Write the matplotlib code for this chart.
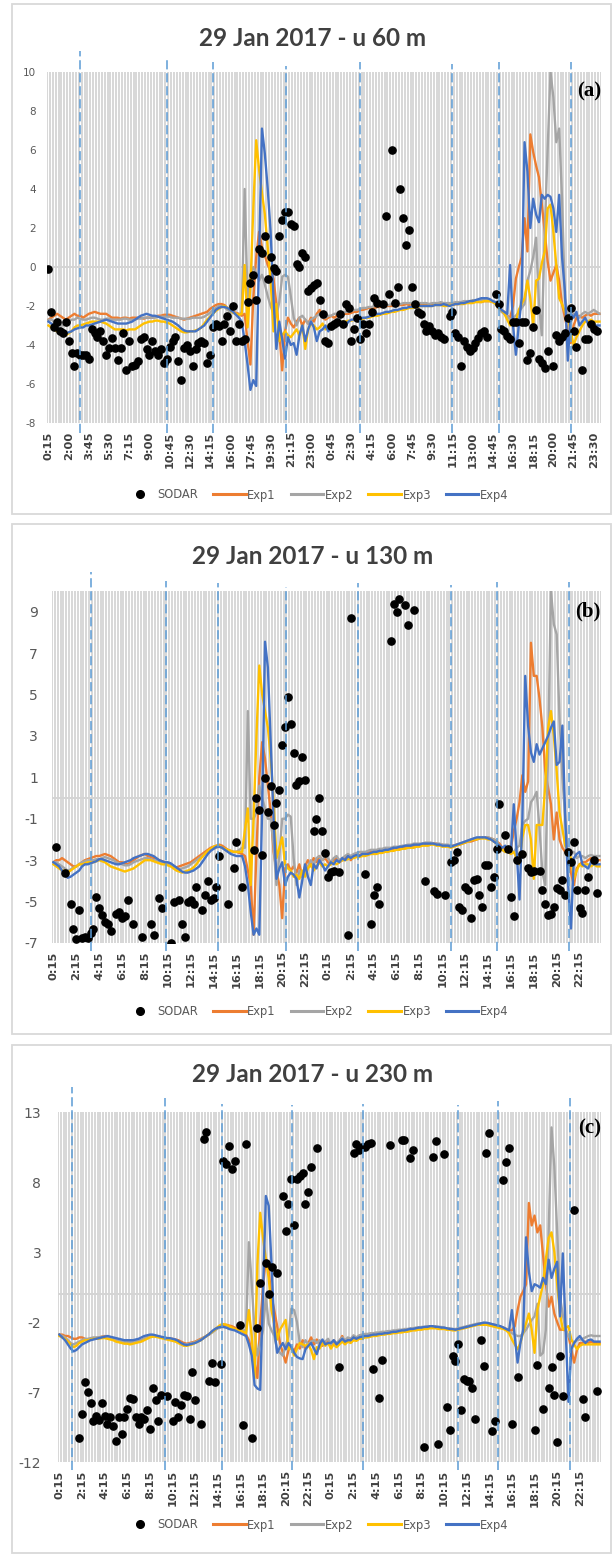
import numpy as np
import matplotlib
matplotlib.use("Agg")
import matplotlib.pyplot as plt
from matplotlib.lines import Line2D
from matplotlib.patches import Rectangle

nan = float("nan")

# x tick labels (15-min steps, two days)
ticks_a = ["0:15", "2:00", "3:45", "5:30", "7:15", "9:00", "10:45", "12:30", "14:15", "16:00",
           "17:45", "19:30", "21:15", "23:00", "0:45", "2:30", "4:15", "6:00", "7:45", "9:30",
           "11:15", "13:00", "14:45", "16:30", "18:15", "20:00", "21:45", "23:30"]
ticks_bc = ["0:15", "2:15", "4:15", "6:15", "8:15", "10:15", "12:15", "14:15", "16:15", "18:15",
            "20:15", "22:15"] * 2

series_names = ["SODAR", "Exp1", "Exp2", "Exp3", "Exp4"]

# ---------------- (a) 60 m ----------------
sodar_a = [
    -0.1, -2.3, -3.1, -2.8, -3.3, -3.4, -2.8, -3.8, -4.4, -5.1, -4.4, -4.5, -4.5, -4.5, -4.7, -3.2,
    -3.4, -3.6, -3.3, -3.8, -4.5, -4.15, -3.65, -4.15, -4.75, -4.15, -3.4, -5.3, -3.8, -5.1, -5.0, -4.8,
    -3.7, -3.6, -4.2, -4.5, -3.8, -4.3, -4.5, -4.2, -4.9, -4.7, -4.1, -3.8, -3.6, -4.8, -5.8, -4.15,
    -4.0, -4.3, -5.1, -4.2, -3.9, -3.8, -3.9, -4.9, -4.5, -3.1, -2.9, -3.0, -3.8, -2.9, -2.5, -3.3,
    -2.0, -3.8, -2.9, -3.8, -3.7, -1.8, -0.8, -0.4, -1.7, 0.9, 0.7, 1.6, -0.6, 0.5, -0.05, -0.2,
    1.6, 2.4, 2.8, 2.8, 2.2, 2.1, 0.15, 0.0, 0.7, 0.5, -1.25, -1.1, -0.9, -0.8, -1.7, -2.4,
    -3.8, -3.9, -3.0, -2.9, -2.8, -2.4, -2.9, -1.9, -2.1, -3.8, -3.2, -2.6, -3.7, -2.9, -3.4, -2.9,
    -2.3, -1.6, -1.85, nan, -1.9, 2.6, -1.4, 6.0, -1.85, -1.0, 4.0, 2.5, 1.15, 1.9, -1.0, -1.9,
    -2.3, -2.4, -2.9, -3.3, -3.0, -3.3, -3.5, -3.4, -3.6, -3.7, nan, -2.5, -2.3, -3.4, -3.6, -5.1,
    -3.8, -4.1, -4.3, -4.15, -3.9, -3.65, -3.4, -3.3, -3.6, nan, nan, -1.4, -1.9, -3.2, -3.3, -3.55,
    -3.7, -2.8, -2.8, -3.9, -2.8, -2.8, -4.75, -4.4, -3.1, -2.2, -4.7, -4.9, -5.2, -4.3, nan, -5.1,
    -3.5, -3.8, -3.6, -3.4, -2.6, -2.1, -3.3, -4.1, nan, -5.3, -3.7, -3.7, -2.9, -3.2, -3.3, nan]
exp1_a = [
    -2.7, -2.6, -2.5, -2.4, -2.5, -2.6, -2.7, -2.6, -2.5, -2.4, -2.5, -2.5, -2.6, -2.5, -2.4, -2.35,
    -2.3, -2.35, -2.4, -2.4, -2.4, -2.5, -2.6, -2.6, -2.6, -2.65, -2.6, -2.6, -2.65, -2.6, -2.6, -2.6,
    -2.6, -2.65, -2.6, -2.6, -2.6, -2.55, -2.5, -2.5, -2.45, -2.45, -2.45, -2.5, -2.55, -2.6, -2.65, -2.7,
    -2.65, -2.6, -2.55, -2.5, -2.45, -2.4, -2.35, -2.3, -2.15, -2.05, -1.95, -1.9, -1.9, -1.95, -2.1, -2.2,
    -2.3, -2.35, -2.4, -2.5, -2.4, -3.8, -5.0, -1.6, 0.5, 1.8, 1.0, 0.6, 0.1, -0.2, -0.6, -1.9,
    -3.3, -5.3, -3.3, -2.6, -2.9, -3.1, -2.8, -2.6, -3.0, -2.7, -2.9, -2.6, -2.8, -2.4, -2.2, -2.6,
    -2.7, -2.6, -2.5, -2.6, -2.5, -2.5, -2.4, -2.4, -2.4, -2.35, -2.3, -2.3, -2.2, -2.2, -2.15, -2.1,
    -2.1, -2.1, -2.05, -2.05, -2.0, -2.0, -2.0, -2.0, -1.95, -1.95, -1.95, -1.95, -1.9, -1.95, -1.9, -1.9,
    -1.9, -1.9, -1.9, -1.95, -1.9, -1.9, -1.85, -1.9, -1.9, -1.95, -1.95, -1.9, -1.95, -1.9, -1.9, -1.85,
    -1.85, -1.8, -1.8, -1.8, -1.75, -1.75, -1.8, -1.75, -1.75, -1.75, -1.8, -1.8, -2.0, -2.2, -2.3, -2.5,
    -2.6, -2.0, -0.6, 0.0, 0.5, 2.5, 0.8, 6.8, 5.9, 5.2, 4.6, 3.2, 1.8, 0.3, -0.7, -0.3,
    0.1, -0.7, -1.9, -2.6, -3.3, -3.9, -3.0, -2.6, -2.5, -2.6, -2.5, -2.4, -2.5, -2.4, -2.4, -2.4]
exp2_a = [
    -2.7, -2.7, -2.8, -2.9, -3.0, -3.0, -2.9, -2.8, -2.7, -2.7, -2.6, -2.65, -2.7, -2.7, -2.65, -2.6,
    -2.6, -2.65, -2.7, -2.7, -2.65, -2.65, -2.7, -2.7, -2.7, -2.7, -2.65, -2.65, -2.7, -2.7, -2.7, -2.65,
    -2.65, -2.6, -2.6, -2.6, -2.6, -2.6, -2.55, -2.55, -2.55, -2.55, -2.55, -2.6, -2.6, -2.6, -2.65, -2.65,
    -2.65, -2.65, -2.6, -2.6, -2.6, -2.6, -2.55, -2.45, -2.35, -2.2, -2.1, -2.0, -2.0, -2.05, -2.2, -2.3,
    -2.35, -2.4, -2.5, -2.3, 4.0, -1.6, -0.5, 0.0, -0.3, -0.7, -0.4, -0.9, -1.5, -2.0, -2.4, -2.5,
    -1.8, -0.5, -0.4, -0.5, -1.5, -2.6, -3.0, -2.6, -2.5, -2.7, -2.9, -2.7, -2.6, -2.5, -2.4, -2.6,
    -2.6, -2.5, -2.5, -2.4, -2.4, -2.35, -2.35, -2.3, -2.3, -2.25, -2.2, -2.2, -2.15, -2.1, -2.1, -2.05,
    -2.05, -2.0, -2.0, -2.0, -1.95, -1.95, -1.95, -1.9, -1.9, -1.9, -1.9, -1.85, -1.85, -1.85, -1.85, -1.85,
    -1.85, -1.85, -1.85, -1.85, -1.9, -1.85, -1.85, -1.85, -1.8, -1.85, -1.85, -1.85, -1.85, -1.8, -1.8, -1.8,
    -1.75, -1.75, -1.75, -1.7, -1.7, -1.7, -1.7, -1.7, -1.7, -1.7, -1.75, -1.9, -2.1, -2.3, -2.4, -2.5,
    -2.7, -2.6, -2.5, -2.3, -2.1, -1.9, -0.7, -0.2, 0.5, 1.5, -1.9, -3.5, 1.8, 6.0, 10.0, 8.7,
    6.4, 7.1, 3.5, -1.6, -2.4, -2.5, -2.4, -2.5, -2.6, -2.4, -2.3, -2.4, -2.3, -2.2, -2.3, -2.4]
exp3_a = [
    -3.0, -3.1, -3.2, -3.3, -3.4, -3.5, -3.5, -3.4, -3.3, -3.1, -3.0, -3.0, -2.95, -2.9, -2.85, -2.8,
    -2.8, -2.8, -2.8, -2.85, -2.9, -3.0, -3.1, -3.2, -3.2, -3.2, -3.2, -3.25, -3.2, -3.2, -3.2, -3.1,
    -3.0, -2.9, -2.85, -2.8, -2.8, -2.75, -2.75, -2.8, -2.8, -2.85, -2.9, -3.0, -3.1, -3.2, -3.3, -3.35,
    -3.35, -3.3, -3.3, -3.25, -3.2, -3.1, -2.9, -2.7, -2.55, -2.4, -2.25, -2.15, -2.05, -2.0, -2.1, -2.2,
    -2.35, -2.4, -2.45, -2.4, 0.1, -3.1, -1.0, 3.0, 6.5, 5.0, 3.8, 2.7, 1.0, -0.7, -3.3, -1.9,
    -3.8, -3.5, -3.3, -3.5, -3.6, -3.4, -3.2, -3.5, -3.0, -4.2, -3.2, -2.9, -3.0, -3.2, -3.1, -2.9,
    -3.2, -3.0, -3.1, -2.9, -2.9, -2.85, -2.8, -2.8, -2.75, -2.75, -2.7, -2.7, -2.7, -2.65, -2.6, -2.6,
    -2.55, -2.5, -2.5, -2.45, -2.4, -2.4, -2.35, -2.3, -2.3, -2.25, -2.2, -2.2, -2.15, -2.1, -2.1, -2.05,
    -2.05, -2.0, -2.0, -2.0, -2.0, -2.0, -1.95, -1.95, -1.95, -2.0, -2.0, -1.95, -1.95, -1.9, -1.9, -1.9,
    -1.9, -1.85, -1.85, -1.85, -1.8, -1.8, -1.8, -1.75, -1.75, -1.75, -1.8, -1.9, -2.1, -2.2, -2.4, -2.7,
    -3.0, -2.9, -2.8, -2.2, -1.9, -1.6, -0.7, -1.6, -3.0, -0.7, -0.6, 0.2, 0.8, 3.0, 3.2, 1.8,
    0.1, -1.6, -1.9, -2.3, -2.6, -3.3, -4.0, -3.6, -3.3, -3.0, -2.8, -2.8, -2.7, -2.8, -2.8, -2.8]
exp4_a = [
    -2.8, -2.9, -3.0, -3.1, -3.2, -3.3, -3.4, -3.35, -3.3, -3.2, -3.15, -3.1, -3.1, -3.0, -3.0, -2.95,
    -2.9, -2.85, -2.8, -2.75, -2.7, -2.75, -2.8, -2.85, -2.9, -2.9, -2.9, -2.9, -2.85, -2.8, -2.7, -2.6,
    -2.5, -2.45, -2.4, -2.45, -2.5, -2.5, -2.55, -2.6, -2.65, -2.7, -2.75, -2.8, -2.9, -3.0, -3.15, -3.25,
    -3.3, -3.3, -3.3, -3.3, -3.2, -3.1, -3.0, -2.8, -2.6, -2.4, -2.2, -2.1, -2.05, -2.05, -2.1, -2.2,
    -2.3, -2.45, -2.6, -2.8, -3.8, -5.0, -6.3, -5.8, -6.1, 0.5, 7.1, 5.8, 4.0, 1.8, -1.6, -4.2,
    -2.8, -3.7, -4.7, -3.6, -4.0, -3.9, -4.5, -3.5, -3.0, -3.8, -3.2, -2.8, -3.1, -3.8, -3.3, -3.2,
    -3.0, -3.3, -3.0, -2.9, -3.0, -2.9, -2.8, -3.0, -2.8, -2.7, -2.7, -2.7, -2.65, -2.6, -2.6, -2.55,
    -2.5, -2.45, -2.4, -2.4, -2.35, -2.3, -2.3, -2.25, -2.2, -2.2, -2.15, -2.1, -2.1, -2.05, -2.05, -2.0,
    -2.0, -2.0, -2.0, -2.0, -2.0, -2.0, -1.95, -1.95, -1.95, -1.9, -1.95, -2.0, -1.95, -1.9, -1.9, -1.85,
    -1.85, -1.8, -1.75, -1.75, -1.7, -1.65, -1.6, -1.6, -1.6, -1.65, -1.75, -1.8, -1.8, -2.2, -2.3, -2.4,
    0.1, -3.0, -4.5, -3.0, -1.6, 6.4, 4.9, 2.0, 3.5, 2.7, 2.3, 3.7, 3.5, 3.7, 3.6, 3.0,
    1.8, 3.7, 0.5, -1.25, -4.8, -2.4, -2.6, -2.3, -3.0, -2.8, -2.6, -2.9, -3.1, -3.1, -3.0, -3.0]

# ---------------- (b) 130 m ----------------
sodar_b = [
    nan, -2.35, nan, nan, -3.6, nan, -5.1, -6.3, -6.8, -5.4, -6.75, -6.7, -6.75, -6.5, -6.3, -4.8,
    -5.3, -5.65, -6.0, -6.1, -6.4, nan, -5.6, -5.5, -5.8, -5.7, -4.9, nan, -6.1, nan, nan, -6.7,
    nan, nan, -6.1, -6.6, nan, -4.85, -5.3, nan, nan, -7.0, -5.0, nan, -4.9, -6.1, -6.7, -5.0,
    -4.9, -5.1, -4.3, nan, -5.4, -4.7, -4.0, -4.9, -4.85, -4.3, -2.8, nan, nan, -5.1, nan, -3.4,
    -2.1, nan, -4.3, nan, nan, nan, -2.5, 0.0, -0.6, -2.75, 0.95, -0.65, 0.6, -1.3, -0.25, 0.4,
    2.55, 3.45, 4.9, 3.6, 2.2, 0.65, 0.8, 2.0, 0.85, nan, nan, -1.6, -1.0, 0.0, -1.6, -2.65,
    -3.8, -3.55, -3.5, nan, -3.55, nan, nan, -6.6, 8.7, nan, nan, nan, nan, -3.65, nan, -6.1,
    -4.7, -4.3, -5.1, nan, nan, nan, 7.6, 9.35, 9.0, 9.6, nan, 9.3, 8.35, nan, 9.1, nan,
    nan, nan, -4.0, nan, nan, -4.5, -4.65, nan, nan, -4.7, nan, -3.1, -3.0, -2.6, -5.25, -5.4,
    -4.3, -4.45, -5.8, -3.95, -3.9, -4.7, -5.25, -3.25, -3.25, -4.3, -3.8, -2.45, -0.3, nan, -1.8, -2.45,
    -4.8, -5.7, -3.0, nan, -2.7, nan, -3.4, -3.55, -3.5, nan, -3.5, -4.45, -5.1, -5.65, -5.6, -5.25,
    -4.35, -4.45, -3.95, -4.7, -2.6, -3.1, -2.1, -4.45, -5.3, -5.55, -4.45, -3.8, nan, -3.0, -4.6, nan]
exp1_b = [
    -3.1, -3.0, -3.0, -2.9, -3.0, -3.1, -3.2, -3.3, -3.3, -3.2, -3.1, -3.0, -2.95, -2.9, -2.85, -2.8,
    -2.8, -2.75, -2.7, -2.75, -2.8, -2.9, -3.0, -3.1, -3.1, -3.15, -3.2, -3.1, -3.0, -2.9, -2.8, -2.75,
    -2.7, -2.8, -2.85, -2.9, -2.95, -3.0, -3.05, -3.1, -3.15, -3.2, -3.3, -3.35, -3.3, -3.25, -3.2, -3.15,
    -3.1, -3.0, -2.9, -2.8, -2.7, -2.6, -2.5, -2.4, -2.35, -2.3, -2.25, -2.3, -2.4, -2.5, -2.55, -2.6,
    -2.6, -2.65, -2.7, -2.8, -3.5, -4.2, -6.6, -2.6, 1.0, 2.7, 1.9, 0.6, -0.7, -2.6, -3.5, -4.2,
    -5.8, -3.4, -3.2, -3.5, -3.3, -3.6, -3.2, -3.8, -3.3, -3.0, -3.3, -2.9, -3.1, -2.8, -3.0, -2.9,
    -3.1, -3.2, -3.0, -2.9, -3.1, -3.0, -2.9, -2.8, -3.0, -2.8, -2.7, -2.75, -2.7, -2.7, -2.65, -2.6,
    -2.6, -2.55, -2.6, -2.55, -2.5, -2.5, -2.45, -2.45, -2.4, -2.4, -2.4, -2.35, -2.35, -2.3, -2.3, -2.3,
    -2.3, -2.25, -2.25, -2.2, -2.2, -2.2, -2.2, -2.25, -2.25, -2.3, -2.3, -2.3, -2.3, -2.25, -2.25, -2.2,
    -2.15, -2.1, -2.1, -2.05, -2.0, -1.95, -1.9, -1.9, -1.9, -1.95, -2.0, -2.1, -2.2, -2.4, -2.5, -2.6,
    -2.4, -1.6, -1.0, -0.2, 1.1, 0.3, 0.8, 7.5, 5.9, 5.9, 4.8, 3.4, 1.3, 0.5, -0.3, -2.0,
    -0.7, -2.0, -2.4, -2.6, -2.9, -3.6, -4.2, -3.4, -3.2, -3.1, -3.1, -3.0, -2.9, -3.0, -3.0, -3.0]
exp2_b = [
    -3.1, -3.1, -3.2, -3.3, -3.4, -3.5, -3.45, -3.35, -3.3, -3.2, -3.1, -3.05, -3.0, -3.0, -3.0, -2.95,
    -2.95, -2.9, -2.85, -2.9, -2.95, -3.0, -3.1, -3.15, -3.2, -3.25, -3.25, -3.2, -3.1, -3.05, -3.0, -2.95,
    -2.9, -2.9, -2.95, -3.0, -3.0, -3.05, -3.1, -3.1, -3.15, -3.2, -3.3, -3.4, -3.45, -3.4, -3.35, -3.3,
    -3.2, -3.1, -3.0, -2.9, -2.8, -2.7, -2.6, -2.5, -2.45, -2.4, -2.35, -2.4, -2.5, -2.55, -2.6, -2.6,
    -2.6, -2.5, -2.4, -2.4, 4.2, -1.0, -1.0, -0.7, 0.6, 0.0, -0.5, -1.0, -1.0, -2.3, -4.2, -2.8,
    -1.0, -1.0, -0.8, -0.9, -2.9, -4.2, -3.5, -3.8, -3.5, -3.3, -3.0, -3.2, -2.9, -2.8, -3.0, -2.8,
    -2.9, -3.1, -2.9, -2.8, -3.0, -2.9, -2.8, -2.7, -2.8, -2.7, -2.65, -2.6, -2.6, -2.6, -2.55, -2.5,
    -2.5, -2.5, -2.45, -2.45, -2.4, -2.4, -2.4, -2.35, -2.35, -2.35, -2.3, -2.3, -2.25, -2.25, -2.2, -2.2,
    -2.2, -2.2, -2.15, -2.15, -2.15, -2.2, -2.2, -2.2, -2.25, -2.25, -2.25, -2.3, -2.3, -2.25, -2.2, -2.15,
    -2.1, -2.05, -2.0, -1.95, -1.95, -1.9, -1.9, -1.9, -1.9, -1.95, -2.0, -2.1, -2.3, -2.5, -2.6, -2.6,
    -2.6, -2.6, -2.4, -2.3, -1.3, -1.1, -1.0, -0.2, 0.0, 0.3, -1.5, -3.6, -4.2, 2.2, 10.0, 8.4,
    7.9, 3.8, 1.0, -1.0, -2.9, -2.6, -2.6, -2.9, -2.8, -2.8, -2.9, -2.8, -2.75, -2.8, -2.8, -2.8]
exp3_b = [
    -3.2, -3.3, -3.4, -3.5, -3.5, -3.6, -3.5, -3.4, -3.3, -3.2, -3.2, -3.15, -3.1, -3.1, -3.1, -3.05,
    -3.0, -3.05, -3.1, -3.2, -3.3, -3.35, -3.4, -3.45, -3.5, -3.55, -3.5, -3.45, -3.4, -3.3, -3.2, -3.1,
    -3.0, -3.0, -3.0, -3.05, -3.1, -3.15, -3.2, -3.2, -3.25, -3.3, -3.4, -3.5, -3.55, -3.6, -3.55, -3.5,
    -3.45, -3.35, -3.2, -3.0, -2.85, -2.7, -2.55, -2.45, -2.35, -2.3, -2.3, -2.4, -2.45, -2.5, -2.55, -2.6,
    -2.6, -2.6, -2.6, -1.5, -0.5, -4.2, -1.0, 3.0, 6.4, 5.0, 4.2, 3.4, 1.9, -0.2, -2.9, -2.4,
    -1.9, -3.2, -3.4, -3.5, -3.8, -3.7, -3.9, -3.5, -3.8, -3.4, -3.2, -3.5, -3.3, -3.1, -3.3, -3.2,
    -3.3, -3.2, -3.1, -3.2, -3.1, -3.0, -3.0, -2.95, -2.9, -2.9, -2.85, -2.85, -2.8, -2.8, -2.75, -2.7,
    -2.7, -2.7, -2.65, -2.65, -2.6, -2.6, -2.55, -2.55, -2.5, -2.5, -2.45, -2.45, -2.4, -2.4, -2.4, -2.35,
    -2.35, -2.3, -2.3, -2.3, -2.25, -2.25, -2.3, -2.3, -2.35, -2.35, -2.35, -2.4, -2.35, -2.3, -2.25, -2.2,
    -2.15, -2.1, -2.05, -2.0, -2.0, -1.95, -1.95, -1.95, -2.0, -2.0, -2.1, -2.2, -2.35, -2.5, -2.6, -2.6,
    -2.7, -2.6, -2.9, -3.2, -1.9, -1.3, -1.3, -2.0, -3.9, -1.3, -1.3, -1.3, 0.6, 3.4, 4.2, 3.0,
    1.3, -0.7, -1.5, -2.3, -2.6, -2.9, -3.9, -3.5, -3.2, -3.3, -3.2, -3.2, -3.3, -3.2, -3.3, -3.3]
exp4_b = [
    -3.1, -3.2, -3.3, -3.5, -3.7, -3.85, -3.8, -3.7, -3.6, -3.5, -3.3, -3.2, -3.2, -3.15, -3.1, -3.05,
    -2.95, -2.95, -3.0, -3.05, -3.1, -3.15, -3.2, -3.2, -3.15, -3.1, -3.05, -3.0, -2.9, -2.85, -2.8, -2.75,
    -2.7, -2.7, -2.75, -2.8, -2.9, -3.0, -3.05, -3.1, -3.1, -3.15, -3.25, -3.35, -3.45, -3.55, -3.6, -3.6,
    -3.55, -3.5, -3.4, -3.3, -3.1, -2.9, -2.7, -2.55, -2.45, -2.35, -2.35, -2.4, -2.5, -2.6, -2.7, -2.75,
    -2.8, -2.8, -2.8, -3.3, -4.2, -5.5, -6.6, -6.3, -6.6, -0.5, 7.55, 6.3, 2.6, -1.0, -3.9, -3.4,
    -3.1, -4.2, -3.8, -3.6, -3.7, -3.9, -4.8, -4.0, -3.2, -3.8, -4.2, -3.2, -3.4, -3.0, -3.2, -3.5,
    -3.3, -3.1, -3.2, -3.0, -3.1, -2.9, -3.0, -2.8, -2.9, -2.8, -2.75, -2.8, -2.7, -2.7, -2.7, -2.65,
    -2.6, -2.6, -2.55, -2.55, -2.5, -2.5, -2.45, -2.4, -2.4, -2.35, -2.35, -2.3, -2.3, -2.3, -2.25, -2.25,
    -2.25, -2.2, -2.2, -2.2, -2.2, -2.2, -2.25, -2.25, -2.3, -2.3, -2.3, -2.35, -2.3, -2.25, -2.2, -2.15,
    -2.1, -2.05, -2.0, -1.95, -1.9, -1.9, -1.9, -1.9, -1.95, -2.0, -2.1, -2.2, -2.3, -2.4, -2.3, -2.6,
    -2.6, -0.3, -2.6, -4.9, -1.0, 5.9, 3.5, 2.2, 1.75, 2.6, 2.1, 2.4, 2.7, 3.0, 3.4, 3.7,
    1.6, 1.75, 3.5, -1.0, -4.2, -6.3, -2.9, -2.7, -2.6, -3.2, -3.3, -3.4, -3.1, -3.2, -3.2, -3.2]

# ---------------- (c) 230 m ----------------
sodar_c = [
    nan, nan, nan, nan, nan, nan, nan, -10.3, -8.6, -6.3, -7.0, -7.8, -9.1, -8.7, -9.0, -7.8,
    -8.7, -9.3, -8.8, -9.4, -10.5, -8.8, -10.0, -8.8, -8.2, -7.4, -7.5, -8.8, -9.3, -8.8, -8.95, -8.3,
    -9.65, -6.7, -7.6, -9.1, -7.2, nan, -7.3, nan, -9.1, -7.7, -8.8, -7.9, -7.2, -7.3, -8.9, -5.6,
    -7.6, nan, -9.3, 11.05, 11.6, -6.2, -4.9, -6.3, nan, -5.0, 9.5, 9.3, 10.6, 8.9, 9.5, nan,
    -2.2, -9.35, 10.75, nan, -10.3, nan, -2.45, 0.8, nan, 2.2, 0.0, 1.9, nan, 1.5, nan, 7.0,
    4.5, 6.45, 8.25, 4.9, 8.25, 8.4, 8.65, 6.45, 7.3, 9.1, nan, 10.4, nan, nan, nan, nan,
    nan, nan, nan, -5.2, nan, nan, nan, nan, 10.1, 10.7, 10.3, 10.5, 10.5, 10.7, 10.8, -5.35,
    nan, -7.4, -4.7, nan, nan, 10.65, nan, nan, nan, 11.0, 11.0, nan, 9.7, 10.3, nan, nan,
    nan, -10.9, nan, nan, 9.8, 10.9, -10.7, nan, 10.0, -8.1, -9.7, -4.4, -4.8, -3.6, -8.3, -6.1,
    -6.2, -6.2, -6.7, -8.95, nan, -3.3, -5.15, 10.1, 11.5, -9.8, -9.1, nan, nan, 8.15, 9.4, 10.4,
    -9.3, nan, -5.9, nan, nan, nan, nan, nan, -9.7, -5.1, nan, -8.2, nan, -6.7, -5.2, -7.2,
    -10.6, -4.4, -7.3, nan, nan, nan, 6.0, nan, nan, -7.5, -8.8, nan, nan, nan, -6.9, nan]
exp1_c = [
    -2.9, -2.9, -3.0, -3.0, -3.1, -3.2, -3.2, -3.1, -3.1, -3.2, -3.3, -3.25, -3.2, -3.15, -3.1, -3.05,
    -3.0, -3.05, -3.1, -3.2, -3.3, -3.35, -3.4, -3.4, -3.4, -3.45, -3.4, -3.4, -3.35, -3.3, -3.2, -3.1,
    -3.0, -3.0, -3.0, -3.05, -3.1, -3.1, -3.15, -3.2, -3.2, -3.25, -3.3, -3.4, -3.5, -3.55, -3.5, -3.45,
    -3.4, -3.3, -3.2, -3.1, -3.0, -2.85, -2.7, -2.55, -2.4, -2.3, -2.2, -2.2, -2.25, -2.3, -2.4, -2.5,
    -2.6, -2.7, -2.9, -3.3, -4.1, -4.9, -6.0, -2.1, 0.5, 2.55, 1.6, -0.2, -1.2, -2.3, -3.5, -4.2,
    -4.9, -4.0, -3.8, -4.1, -3.6, -3.9, -3.3, -3.9, -3.5, -3.1, -3.6, -3.25, -3.5, -3.7, -3.5, -3.3,
    -3.8, -3.3, -3.7, -3.4, -3.0, -3.5, -3.2, -3.4, -3.0, -3.3, -3.1, -3.2, -3.0, -3.0, -2.95, -2.9,
    -2.9, -2.85, -2.85, -2.8, -2.8, -2.75, -2.7, -2.7, -2.65, -2.6, -2.6, -2.55, -2.5, -2.5, -2.45, -2.4,
    -2.4, -2.4, -2.35, -2.35, -2.35, -2.35, -2.4, -2.4, -2.45, -2.5, -2.5, -2.55, -2.55, -2.5, -2.45, -2.4,
    -2.35, -2.3, -2.25, -2.2, -2.15, -2.1, -2.1, -2.1, -2.15, -2.2, -2.25, -2.3, -2.35, -2.4, -2.5, -2.6,
    -2.6, -2.3, -1.15, -0.2, 0.2, 0.7, 6.5, 4.9, 5.6, 4.4, 4.9, 2.8, 0.7, -0.9, -0.2, -1.4,
    -2.0, -2.55, -2.55, -2.6, -3.0, -3.95, -4.9, -4.0, -3.5, -3.5, -3.4, -3.5, -3.4, -3.5, -3.5, -3.5]
exp2_c = [
    -2.9, -3.0, -3.1, -3.3, -3.5, -3.6, -3.5, -3.4, -3.3, -3.2, -3.2, -3.15, -3.1, -3.1, -3.1, -3.05,
    -3.05, -3.1, -3.15, -3.2, -3.3, -3.35, -3.4, -3.4, -3.45, -3.45, -3.4, -3.4, -3.35, -3.3, -3.2, -3.1,
    -3.05, -3.0, -3.0, -3.05, -3.1, -3.15, -3.2, -3.2, -3.25, -3.3, -3.4, -3.5, -3.6, -3.6, -3.55, -3.5,
    -3.45, -3.35, -3.25, -3.1, -3.0, -2.9, -2.75, -2.6, -2.45, -2.4, -2.35, -2.4, -2.45, -2.5, -2.55, -2.6,
    -2.6, -2.6, -2.55, 3.7, 0.7, -2.6, -4.4, -3.5, -2.6, -0.2, -2.1, -2.6, -3.0, -4.0, -4.2, -4.4,
    -3.7, -3.0, -1.05, -1.15, -2.0, -3.5, -3.8, -3.3, -3.6, -3.4, -3.3, -3.5, -3.3, -3.6, -3.4, -3.2,
    -3.6, -3.3, -3.5, -3.3, -3.1, -3.3, -3.1, -3.2, -2.95, -3.1, -2.95, -2.9, -2.85, -2.85, -2.8, -2.8,
    -2.75, -2.75, -2.7, -2.7, -2.65, -2.65, -2.6, -2.6, -2.55, -2.55, -2.5, -2.5, -2.45, -2.45, -2.4, -2.4,
    -2.35, -2.35, -2.3, -2.3, -2.3, -2.3, -2.35, -2.35, -2.4, -2.45, -2.45, -2.5, -2.5, -2.45, -2.4, -2.35,
    -2.3, -2.25, -2.2, -2.15, -2.1, -2.1, -2.05, -2.1, -2.1, -2.15, -2.2, -2.25, -2.35, -2.4, -2.5, -2.7,
    -2.8, -2.9, -3.0, -3.0, -2.8, -2.55, -2.2, -1.85, -1.6, -0.7, -4.4, -4.2, -2.55, 4.5, 11.9, 9.1,
    4.4, -0.2, -1.5, -2.55, -3.0, -3.3, -3.5, -3.3, -3.25, -3.2, -3.1, -3.0, -2.95, -3.0, -3.0, -3.0]
exp3_c = [
    -3.0, -3.1, -3.2, -3.4, -3.6, -3.8, -3.7, -3.5, -3.4, -3.3, -3.3, -3.25, -3.2, -3.2, -3.2, -3.15,
    -3.15, -3.2, -3.25, -3.3, -3.4, -3.45, -3.5, -3.55, -3.55, -3.6, -3.55, -3.5, -3.45, -3.4, -3.3, -3.2,
    -3.1, -3.05, -3.05, -3.1, -3.15, -3.2, -3.25, -3.3, -3.35, -3.4, -3.5, -3.6, -3.7, -3.7, -3.65, -3.6,
    -3.5, -3.4, -3.3, -3.15, -3.0, -2.85, -2.7, -2.55, -2.35, -2.2, -2.15, -2.2, -2.3, -2.4, -2.5, -2.55,
    -2.6, -2.7, -2.8, -1.15, -3.0, -6.0, 2.1, 5.8, 4.0, 2.5, 1.15, -1.15, -2.2, -3.25, -2.55, -2.2,
    -1.85, -3.95, -3.8, -4.4, -3.9, -3.5, -3.6, -3.7, -3.6, -4.0, -4.65, -3.8, -3.9, -3.5, -3.7, -3.5,
    -3.9, -3.6, -3.8, -3.6, -3.4, -3.6, -3.4, -3.5, -3.3, -3.35, -3.2, -3.2, -3.1, -3.1, -3.05, -3.0,
    -3.0, -2.95, -2.9, -2.9, -2.85, -2.85, -2.8, -2.8, -2.75, -2.75, -2.7, -2.7, -2.65, -2.6, -2.6, -2.55,
    -2.55, -2.5, -2.5, -2.45, -2.45, -2.45, -2.5, -2.5, -2.5, -2.55, -2.55, -2.6, -2.6, -2.55, -2.5, -2.45,
    -2.4, -2.35, -2.3, -2.25, -2.2, -2.2, -2.2, -2.2, -2.25, -2.3, -2.35, -2.4, -2.45, -2.5, -2.6, -2.8,
    -3.25, -3.6, -3.95, -3.5, -2.7, -2.1, -1.4, -2.55, -4.2, -1.15, -0.2, 0.7, 2.5, 4.0, 4.4, 3.0,
    0.7, -1.4, -2.55, -2.4, -2.3, -3.25, -3.6, -3.95, -3.7, -3.6, -3.6, -3.6, -3.6, -3.6, -3.6, -3.6]
exp4_c = [
    -2.9, -3.1, -3.3, -3.6, -3.9, -4.1, -4.0, -3.8, -3.6, -3.5, -3.4, -3.3, -3.25, -3.2, -3.15, -3.1,
    -3.05, -3.0, -3.05, -3.1, -3.15, -3.2, -3.25, -3.3, -3.3, -3.3, -3.3, -3.25, -3.2, -3.1, -3.0, -2.95,
    -2.9, -2.9, -2.95, -3.0, -3.05, -3.1, -3.15, -3.15, -3.2, -3.25, -3.35, -3.5, -3.6, -3.65, -3.6, -3.55,
    -3.5, -3.4, -3.3, -3.15, -3.0, -2.85, -2.65, -2.5, -2.4, -2.35, -2.35, -2.4, -2.5, -2.55, -2.6, -2.7,
    -2.8, -2.9, -3.0, -3.6, -4.4, -6.5, -6.75, -6.85, 0.0, 7.0, 6.3, 2.1, -2.55, -4.2, -3.8, -3.5,
    -3.95, -3.5, -3.8, -4.2, -4.5, -4.6, -4.65, -3.95, -3.7, -3.5, -3.9, -4.3, -3.6, -3.25, -3.6, -3.5,
    -3.5, -3.3, -3.6, -3.4, -3.2, -3.4, -3.3, -3.3, -3.1, -3.2, -3.1, -3.05, -3.0, -3.0, -2.95, -2.9,
    -2.9, -2.85, -2.85, -2.8, -2.8, -2.75, -2.7, -2.7, -2.65, -2.6, -2.6, -2.55, -2.5, -2.5, -2.45, -2.4,
    -2.4, -2.35, -2.35, -2.3, -2.3, -2.35, -2.35, -2.4, -2.4, -2.45, -2.5, -2.5, -2.55, -2.5, -2.45, -2.4,
    -2.35, -2.3, -2.25, -2.2, -2.15, -2.1, -2.05, -2.05, -2.1, -2.15, -2.2, -2.25, -2.3, -2.4, -2.5, -2.6,
    -1.15, -3.0, -4.9, -3.5, -2.55, 4.05, 1.6, 0.2, 0.7, 0.6, 0.45, 1.15, 0.7, 2.45, 1.15, 1.8,
    2.3, -1.6, 2.9, -2.55, -7.7, -3.95, -3.5, -3.2, -3.0, -3.3, -3.5, -3.3, -3.25, -3.4, -3.4, -3.4]

W, H = 616, 1555
fig = plt.figure(figsize=(W / 100, H / 100), dpi=100)


def fx(x):
    return x / W


def fy(y):
    return 1 - y / H


line_colors = ["#ed7d31", "#a5a5a5", "#ffc000", "#4472c4"]
dash_color = "#5b9bd5"

panels = [
    dict(title="29 Jan 2017 - u 60 m", tag="(a)", frame=(12, 4, 611, 514), plot=(47, 72, 601, 423),
         ylim=(-8, 10), yticks=list(range(-8, 11, 2)), yfs=7.5, ypad=8,
         ticks=ticks_a, step=7, sodar=sodar_a, exps=[exp1_a, exp2_a, exp3_a, exp4_a],
         dash_x=[11, 41, 57, 82.3, 108, 140, 156, 181],
         dash_top=[11.1, 10.6, 10.5, 10.3, 10.5, 10.4, 10.5, 10.5], dash_bot=-8.5,
         title_y=38, tag_y=91, legend_y=495),
    dict(title="29 Jan 2017 - u 130 m", tag="(b)", frame=(12, 524, 611, 1034), plot=(52, 591, 601, 943),
         ylim=(-7, 10), yticks=list(range(-7, 10, 2)), yfs=10, ypad=10,
         ticks=ticks_bc, step=8, sodar=sodar_b, exps=[exp1_b, exp2_b, exp3_b, exp4_b],
         dash_x=[13, 39.4, 57.7, 81.3, 106.4, 139.2, 155.2, 180.4],
         dash_top=[10.9, 10.5, 10.4, 10.2, 10.4, 10.3, 10.45, 10.45], dash_bot=-7.4,
         title_y=557, tag_y=611, legend_y=1012),
    dict(title="29 Jan 2017 - u 230 m", tag="(c)", frame=(12, 1045, 611, 1553), plot=(58, 1112, 601, 1462),
         ylim=(-12, 13), yticks=list(range(-12, 14, 5)), yfs=10, ypad=12,
         ticks=ticks_bc, step=8, sodar=sodar_c, exps=[exp1_c, exp2_c, exp3_c, exp4_c],
         dash_x=[4.6, 37.3, 57.6, 82.1, 107.2, 141, 155.1, 180.7],
         dash_top=[14.8, 14.0, 13.6, 13.5, 13.6, 13.5, 13.8, 14.0], dash_bot=-12.6,
         title_y=1075, tag_y=1128, legend_y=1525),
]

for p in panels:
    x0, y0, x1, y1 = p["frame"]
    fig.add_artist(Rectangle((fx(x0), fy(y1)), (x1 - x0) / W, (y1 - y0) / H,
                             transform=fig.transFigure, fill=False, edgecolor="#d9d9d9", lw=1.3))
    fig.text(fx(313), fy(p["title_y"]), p["title"], ha="center", va="center",
             fontsize=17.5, fontfamily="Lato", fontweight="bold", color="#404040")

    px0, py0, px1, py1 = p["plot"]
    ax = fig.add_axes([fx(px0), fy(py1), (px1 - px0) / W, (py1 - py0) / H])
    n = len(p["sodar"])
    x = np.arange(n)
    lo, hi = p["ylim"]
    ax.set_xlim(-0.5, n - 0.5)
    ax.set_ylim(lo, hi)

    # dense category gridlines
    ax.vlines(np.arange(-0.5, n, 1.0), lo, hi, colors="#cdcdcd", lw=1.1, zorder=0)
    ax.axhline(0, color="#d4d4d4", lw=1.4, zorder=1)

    for vals, c in zip(p["exps"], line_colors):
        ax.plot(x, vals, color=c, lw=1.7, zorder=3, solid_joinstyle="round")
    ax.plot(x, p["sodar"], "o", color="black", ms=5.2, ls="none", zorder=5)

    for dx, top in zip(p["dash_x"], p["dash_top"]):
        ax.plot([dx, dx], [p["dash_bot"], top], color=dash_color, lw=1.1,
                ls=(0, (6, 2.5)), clip_on=False, zorder=6)

    for s in ax.spines.values():
        s.set_visible(False)
    ax.set_yticks(p["yticks"])
    ax.set_yticklabels([str(t) for t in p["yticks"]])
    ax.tick_params(axis="y", length=0, pad=p["ypad"], labelsize=p["yfs"], labelcolor="#595959")
    ax.set_xticks(np.arange(0, n, p["step"])[:len(p["ticks"])])
    ax.set_xticklabels(p["ticks"], rotation=90, fontsize=8.2, fontweight="bold", color="#404040")
    ax.tick_params(axis="x", length=0, pad=6)

    fig.text(fx(601), fy(p["tag_y"]), p["tag"], ha="right", va="center",
             fontfamily="Liberation Serif", fontweight="bold", fontsize=15)

    handles = [Line2D([], [], marker="o", color="black", ls="none", ms=5.5)]
    handles += [Line2D([], [], color=c, lw=2.2) for c in line_colors]
    fig.legend(handles, series_names, loc="center", bbox_to_anchor=(fx(316), fy(p["legend_y"])),
               ncol=5, frameon=False, fontsize=8.3, handlelength=2.8, handletextpad=0.15,
               columnspacing=1.3, labelcolor="#595959")

fig.savefig("out.png", dpi=100)
